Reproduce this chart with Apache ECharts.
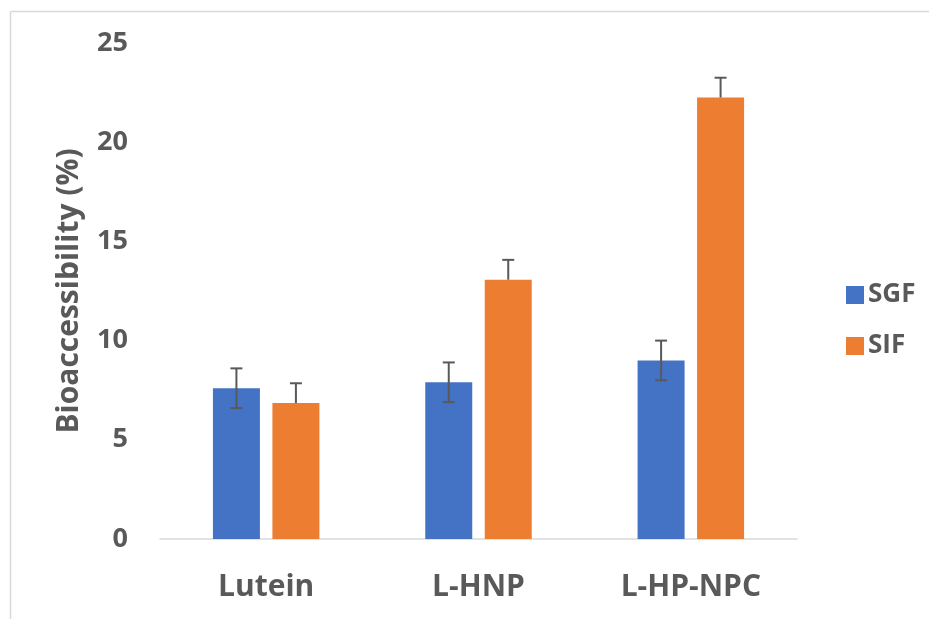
<!DOCTYPE html>
<html>
<head>
<meta charset="utf-8">
<script src="https://cdn.jsdelivr.net/npm/echarts@6/dist/echarts.min.js"></script>
<style>html,body{margin:0;padding:0;background:#fff}#c{width:929px;height:619px}</style>
</head>
<body>
<div id="c"></div>
<script>
const categories = ['Lutein', 'L-HNP', 'L-HP-NPC'];
const sgf = [7.6, 7.9, 9.0];
const sif = [6.85, 13.07, 22.25];
const sgfErr = [1.0, 1.0, 1.0];
const sifErr = [1.0, 1.0, 1.0];
const yTicks = [0, 5, 10, 15, 20, 25];

const BAR_W = 47, GAP = 12.5;
const FONT = '"Open Sans", sans-serif';
const TXT = '#595959';

function errSeries(name, vals, errs, offset, plusOnly) {
  return {
    type: 'custom', name: name + ' err', z: 10, silent: true,
    data: vals.map((v, i) => [i, v, errs[i]]),
    renderItem: function (params, api) {
      const x = api.value(0), v = api.value(1), e = api.value(2);
      const top = api.coord([x, v + e]);
      const bot = api.coord([x, plusOnly ? v : v - e]);
      const cx = top[0] + offset;
      const cap = 6;
      const style = { stroke: '#595959', lineWidth: 2 };
      const children = [
        { type: 'line', shape: { x1: cx, y1: top[1], x2: cx, y2: bot[1] }, style },
        { type: 'line', shape: { x1: cx - cap, y1: top[1], x2: cx + cap, y2: top[1] }, style }
      ];
      if (!plusOnly) children.push({ type: 'line', shape: { x1: cx - cap, y1: bot[1], x2: cx + cap, y2: bot[1] }, style });
      return { type: 'group', children };
    }
  };
}

const chart = echarts.init(document.getElementById('c'));
chart.setOption({
  animation: false,
  backgroundColor: '#fff',
  graphic: [
    { type: 'line', shape: { x1: 10.5, y1: 11.5, x2: 929, y2: 11.5 }, style: { stroke: '#d9d9d9', lineWidth: 1.5 } },
    { type: 'line', shape: { x1: 10.5, y1: 11.5, x2: 10.5, y2: 619 }, style: { stroke: '#d9d9d9', lineWidth: 1.5 } }
  ],
  grid: { left: 160, right: 132, top: 43, bottom: 80 },
  legend: {
    orient: 'vertical', left: 841, top: 277, itemWidth: 18, itemHeight: 18, itemGap: 25,
    icon: 'rect',
    data: ['SGF', 'SIF'],
    textStyle: { fontFamily: FONT, fontWeight: 'bold', fontSize: 26, color: TXT, padding: [0, 0, 0, -1] }
  },
  xAxis: {
    type: 'category', data: categories,
    axisLine: { lineStyle: { color: '#d9d9d9', width: 1.5 } },
    axisTick: { show: false },
    axisLabel: { fontFamily: FONT, fontWeight: 'bold', fontSize: 30, color: TXT, margin: 33 }
  },
  yAxis: {
    type: 'value', min: 0, max: 25, interval: 5,
    name: 'Bioaccessibility (%)', nameLocation: 'middle', nameGap: 76,
    nameTextStyle: { fontFamily: FONT, fontWeight: 'bold', fontSize: 30, color: TXT },
    axisLine: { show: false }, axisTick: { show: false }, splitLine: { show: false },
    axisLabel: { fontFamily: FONT, fontWeight: 'bold', fontSize: 27, color: TXT, margin: 32,
      formatter: v => yTicks.includes(v) ? String(v) : '' }
  },
  series: [
    { type: 'bar', name: 'SGF', data: sgf, barWidth: BAR_W, barGap: (GAP / BAR_W * 100) + '%', itemStyle: { color: '#4472C4' } },
    { type: 'bar', name: 'SIF', data: sif, barWidth: BAR_W, itemStyle: { color: '#ED7D31' } },
    errSeries('SGF', sgf, sgfErr, -(BAR_W + GAP) / 2, false),
    errSeries('SIF', sif, sifErr, (BAR_W + GAP) / 2, true)
  ]
});
</script>
</body>
</html>
